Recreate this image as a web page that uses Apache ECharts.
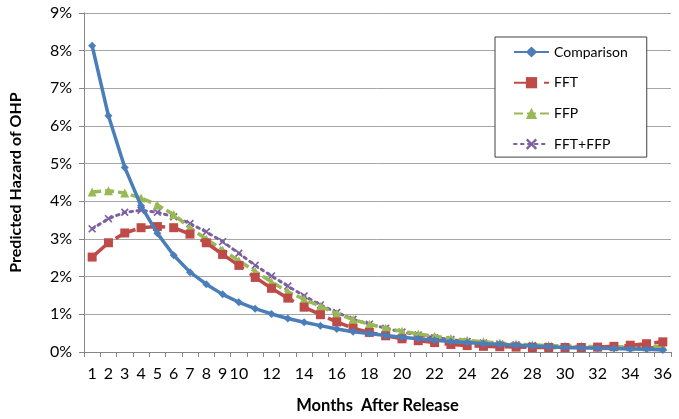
<!DOCTYPE html>
<html>
<head>
<meta charset="utf-8">
<script src="https://cdn.jsdelivr.net/npm/echarts@6/dist/echarts.min.js"></script>
<style>html,body{margin:0;padding:0;background:#fff}#c{width:679px;height:419px}</style>
</head>
<body>
<div id="c"></div>
<script>
const months = [1,2,3,4,5,6,7,8,9,10,11,12,13,14,15,16,17,18,19,20,21,22,23,24,25,26,27,28,29,30,31,32,33,34,35,36];
const comparison = [8.13,6.27,4.90,3.88,3.15,2.57,2.12,1.80,1.53,1.32,1.15,1.01,0.89,0.79,0.70,0.61,0.54,0.49,0.44,0.39,0.35,0.31,0.28,0.25,0.22,0.20,0.18,0.16,0.14,0.12,0.11,0.10,0.09,0.08,0.07,0.05];
const fft = [2.52,2.90,3.16,3.30,3.33,3.30,3.13,2.90,2.59,2.30,1.98,1.69,1.43,1.19,0.99,0.80,0.63,0.52,0.43,0.35,0.30,0.25,0.20,0.17,0.15,0.14,0.13,0.12,0.12,0.12,0.12,0.13,0.15,0.18,0.22,0.27];
const ffp = [4.25,4.28,4.22,4.09,3.90,3.65,3.29,3.00,2.71,2.42,2.14,1.86,1.60,1.40,1.21,1.02,0.86,0.74,0.63,0.55,0.48,0.42,0.36,0.31,0.27,0.24,0.21,0.19,0.17,0.16,0.15,0.14,0.14,0.14,0.14,0.15];
const fftffp = [3.27,3.54,3.71,3.76,3.71,3.59,3.41,3.19,2.93,2.62,2.30,2.02,1.75,1.49,1.25,1.05,0.87,0.74,0.63,0.53,0.45,0.38,0.33,0.28,0.24,0.21,0.19,0.17,0.15,0.14,0.13,0.12,0.12,0.12,0.12,0.12];
const yTicks = [0,1,2,3,4,5,6,7,8,9];

const FONT = 'Lato';
const xSym = 'path://M0,1.5 L1.5,0 L5,3.5 L8.5,0 L10,1.5 L6.5,5 L10,8.5 L8.5,10 L5,6.5 L1.5,10 L0,8.5 L3.5,5 Z';

const chart = echarts.init(document.getElementById('c'));
chart.setOption({
  animation: false,
  backgroundColor: '#fff',
  textStyle: { fontFamily: FONT },
  grid: { left: 82.5, right: 8, top: 13, bottom: 66, containLabel: false },
  legend: {
    orient: 'vertical',
    left: 495, top: 37,
    padding: [8, 19, 6, 18],
    itemWidth: 35, itemHeight: 14, itemGap: 16.7,
    borderColor: '#404040', borderWidth: 1, backgroundColor: '#fff',
    textStyle: { fontFamily: FONT, fontSize: 14, color: '#000' },
    data: ['Comparison','FFT','FFP','FFT+FFP']
  },
  xAxis: {
    type: 'category',
    data: months,
    boundaryGap: true,
    name: 'Months  After Release',
    nameLocation: 'middle',
    nameGap: 45,
    nameTextStyle: { fontFamily: FONT, fontSize: 16.5, fontWeight: 'bold', color: '#000' },
    axisLine: { lineStyle: { color: '#868686', width: 1 } },
    axisTick: { show: true, alignWithLabel: false, interval: 0, length: 5, lineStyle: { color: '#868686' } },
    axisLabel: {
      interval: function (idx) { return idx < 10 || idx % 2 === 1; },
      margin: 14, fontSize: 16, color: '#000', fontFamily: FONT
    },
    splitLine: { show: false }
  },
  yAxis: {
    type: 'value',
    min: yTicks[0], max: yTicks[yTicks.length - 1], interval: 1,
    name: 'Predicted Hazard of OHP',
    nameLocation: 'middle',
    nameGap: 60,
    nameTextStyle: { fontFamily: FONT, fontSize: 16, fontWeight: 'bold', color: '#000' },
    axisLine: { show: true, lineStyle: { color: '#868686', width: 1 } },
    axisTick: { show: true, length: 5, lineStyle: { color: '#868686' } },
    axisLabel: { formatter: '{value}%', margin: 12, fontSize: 16, color: '#000', fontFamily: FONT },
    splitLine: { show: true, lineStyle: { color: '#A6A6A6', width: 1 } }
  },
  series: [
    { name: 'Comparison', type: 'line', data: comparison,
      symbol: 'diamond', symbolSize: 8, showAllSymbol: true,
      lineStyle: { color: '#4A7EBB', width: 3.5 }, itemStyle: { color: '#4A7EBB' }, z: 4 },
    { name: 'FFT', type: 'line', data: fft,
      symbol: 'rect', symbolSize: 9, showAllSymbol: true,
      lineStyle: { color: '#BE4B48', width: 3.5, type: [22, 8] }, itemStyle: { color: '#BE4B48' }, z: 3 },
    { name: 'FFP', type: 'line', data: ffp,
      symbol: 'triangle', symbolSize: 9, showAllSymbol: true,
      lineStyle: { color: '#98B954', width: 3.5, type: [9, 4] }, itemStyle: { color: '#98B954' }, z: 2 },
    { name: 'FFT+FFP', type: 'line', data: fftffp,
      symbol: xSym, symbolSize: 8, showAllSymbol: true,
      lineStyle: { color: '#7D60A0', width: 3, type: [2.5, 4.5], cap: 'round' }, itemStyle: { color: '#7D60A0' }, z: 1 }
  ]
});
</script>
</body>
</html>
